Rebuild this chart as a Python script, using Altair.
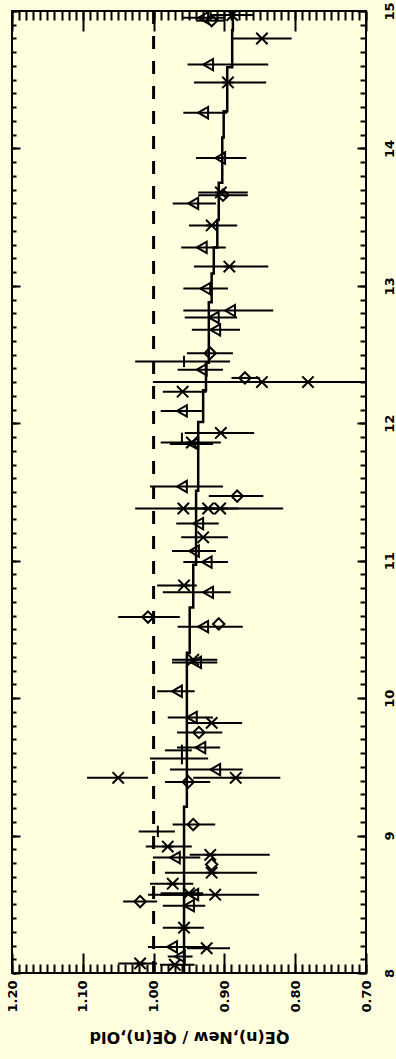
import altair as alt
import pandas as pd

BG = "#FFFFE0"

# ---- step line (running ratio) ----
step_E = [8.00, 9.21, 10.33, 10.66, 10.97, 11.51, 12.01, 12.24, 12.44, 12.88,
          13.09, 13.28, 13.48, 13.75, 14.08, 14.27, 14.59, 14.86, 15.00]
step_QE = [0.957, 0.953, 0.949, 0.944, 0.940, 0.937, 0.930, 0.926, 0.922,
           0.918, 0.915, 0.910, 0.908, 0.903, 0.901, 0.896, 0.889, 0.888]

# ---- individual measurements ----
pt_shape = ["x", "tri", "ast", "tri", "tri", "dia", "ast", "tri", "ast", "tri",
            "ast", "tri", "tri", "tri", "tri", "dia", "tick", "tri", "dia", "ast",
            "x", "x", "tri", "ast", "ast", "tri", "tick", "tri", "dia", "ast",
            "ast", "x", "tri", "x", "tri", "tri", "ast", "tri", "dia", "tri",
            "dia", "ast", "tri", "tri", "tri", "ast", "dia", "tri", "tick", "tick",
            "tri", "x", "ast", "dia", "dia", "tick", "ast", "tri", "ast", "dia",
            "ast", "ast", "tri", "ast", "x", "dia", "tri", "ast", "tri", "x",
            "tri", "ast", "ast", "dia", "tri", "ast"]
pt_energy = [14.80, 14.61, 14.48, 14.26, 13.93, 13.66, 13.68, 13.60, 13.44, 13.28,
             13.14, 12.98, 12.82, 12.77, 12.68, 12.51, 12.45, 12.39, 12.33, 12.30,
             12.30, 12.23, 12.09, 11.93, 11.86, 11.85, 11.89, 11.54, 11.47, 11.38,
             11.38, 11.38, 11.27, 11.17, 11.07, 10.99, 10.82, 10.77, 10.59, 10.52,
             10.54, 10.28, 10.26, 10.05, 9.86, 9.82, 9.75, 9.64, 9.62, 9.56,
             9.48, 9.42, 9.42, 9.39, 9.08, 9.03, 8.92, 8.84, 8.86, 8.79,
             8.73, 8.65, 8.57, 8.58, 8.57, 8.52, 8.49, 8.33, 8.19, 8.18,
             8.12, 8.07, 8.06, 14.93, 14.95, 14.97]
pt_ratio = [0.847, 0.923, 0.895, 0.930, 0.906, 0.902, 0.905, 0.944, 0.918, 0.932,
            0.893, 0.927, 0.892, 0.915, 0.913, 0.920, 0.957, 0.932, 0.871, 0.847,
            0.782, 0.959, 0.960, 0.905, 0.946, 0.944, 0.960, 0.960, 0.882, 0.958,
            0.923, 0.906, 0.937, 0.930, 0.943, 0.925, 0.957, 0.923, 1.008, 0.930,
            0.908, 0.944, 0.940, 0.967, 0.946, 0.918, 0.936, 0.934, 0.960, 0.960,
            0.913, 1.050, 0.884, 0.951, 0.944, 0.994, 0.980, 0.970, 0.920, 0.918,
            0.918, 0.973, 0.944, 0.950, 0.913, 1.019, 0.950, 0.957, 0.974, 0.925,
            0.963, 1.019, 0.970, 0.918, 0.930, 0.889]
pt_err_hi = [0.888, 0.952, 0.943, 0.958, 0.940, 0.937, 0.937, 0.973, 0.950, 0.961,
             0.943, 0.958, 0.958, 0.956, 0.946, 0.953, 1.026, 0.966, 0.890, 0.923,
             1.001, 0.987, 0.990, 0.956, 0.990, 0.977, 0.960, 1.005, 0.922, 1.026,
             0.950, 0.930, 0.968, 0.961, 0.974, 0.958, 0.995, 0.987, 1.050, 0.966,
             0.908, 0.974, 0.974, 0.995, 0.980, 0.953, 0.967, 0.967, 0.984, 1.005,
             0.977, 1.094, 0.944, 0.984, 0.973, 1.021, 1.011, 1.001, 0.949, 0.918,
             0.984, 1.005, 1.008, 0.990, 0.991, 1.043, 0.987, 0.987, 1.008, 0.953,
             0.980, 1.050, 0.991, 0.940, 0.960, 0.920]
pt_err_lo = [0.805, 0.838, 0.841, 0.896, 0.869, 0.867, 0.867, 0.912, 0.882, 0.898,
             0.838, 0.895, 0.831, 0.882, 0.878, 0.888, 0.892, 0.902, 0.850, 0.805,
             0.700, 0.925, 0.930, 0.858, 0.905, 0.916, 0.960, 0.902, 0.845, 0.817,
             0.895, 0.880, 0.908, 0.895, 0.912, 0.895, 0.939, 0.891, 0.963, 0.874,
             0.908, 0.910, 0.910, 0.942, 0.916, 0.875, 0.903, 0.906, 0.946, 0.923,
             0.874, 1.008, 0.821, 0.920, 0.913, 0.970, 0.946, 0.934, 0.836, 0.918,
             0.854, 0.944, 0.930, 0.930, 0.851, 0.995, 0.927, 0.929, 0.925, 0.892,
             0.945, 0.995, 0.942, 0.900, 0.900, 0.860]

ref_value = [1.00]

x_major = [0.70, 0.80, 0.90, 1.00, 1.10, 1.20]
x_minor = [round(0.70 + 0.01 * i, 2) for i in range(51)]
y_major = [8, 9, 10, 11, 12, 13, 14, 15]
y_minor = [round(8 + 0.1 * i, 1) for i in range(71)]

# ---- tables ----
step_rows = []
for i, q in enumerate(step_QE):
    step_rows.append({"E": step_E[i], "QE": q, "o": 2 * i})
    step_rows.append({"E": step_E[i + 1], "QE": q, "o": 2 * i + 1})
step_df = pd.DataFrame(step_rows)

pts_df = pd.DataFrame({"shape": pt_shape, "E": pt_energy, "QE": pt_ratio,
                       "hi": pt_err_hi, "lo": pt_err_lo})
ref_df = pd.DataFrame({"v": ref_value})

xs = alt.Scale(domain=[0.70, 1.20], reverse=True, nice=False, zero=False)
ys = alt.Scale(domain=[8, 15], nice=False, zero=False)

FONT = "DejaVu Sans"


def ax_layer(xaxis, yaxis):
    return alt.Chart(step_df).mark_point(opacity=0).encode(
        x=alt.X("QE:Q", scale=xs, axis=xaxis),
        y=alt.Y("E:Q", scale=ys, axis=yaxis),
    )


common = dict(domain=False, grid=False, tickColor="black", tickWidth=2,
              labelOverlap=False, labelBound=False)

xa_bot_major = alt.Axis(orient="bottom", values=x_major, tickSize=20, offset=-20,
                        format=".2f", labelAngle=270, labelAlign="right",
                        labelBaseline="middle", labelPadding=7,
                        title="QE(n),New / QE(n),Old", titleAngle=180,
                        titleBaseline="bottom", titlePadding=16, **common)
xa_bot_minor = alt.Axis(orient="bottom", values=x_minor, tickSize=9, offset=-9,
                        labels=False, title=None, **common)
xa_top_major = alt.Axis(orient="top", values=x_major, tickSize=20, offset=-20,
                        labels=False, title=None, **common)
xa_top_minor = alt.Axis(orient="top", values=x_minor, tickSize=9, offset=-9,
                        labels=False, title=None, **common)

ya_right_major = alt.Axis(orient="right", values=y_major, tickSize=9, offset=-9,
                          format="d", labelAngle=270, labelAlign="center",
                          labelBaseline="top", labelPadding=17, title=None, **common)
ya_right_minor = alt.Axis(orient="right", values=y_minor, tickSize=6, offset=-6,
                          labels=False, title=None, **common)
ya_left_major = alt.Axis(orient="left", values=y_major, tickSize=8, offset=-8,
                         labels=False, title=None, **common)
ya_left_minor = alt.Axis(orient="left", values=y_minor, tickSize=4, offset=-4,
                         labels=False, title=None, **common)

axes = [
    ax_layer(xa_bot_major, ya_right_major),
    ax_layer(xa_bot_minor, ya_right_minor),
    ax_layer(xa_top_major, ya_left_major),
    ax_layer(xa_top_minor, ya_left_minor),
]

ref = alt.Chart(ref_df).mark_rule(color="black", strokeWidth=3,
                                  strokeDash=[13, 12]).encode(
    x=alt.X("v:Q", scale=xs, axis=None))

step = alt.Chart(step_df).mark_line(color="black", strokeWidth=2.5,
                                    interpolate="linear", clip=True).encode(
    x=alt.X("QE:Q", scale=xs, axis=None),
    y=alt.Y("E:Q", scale=ys, axis=None),
    order="o:Q")

bars = alt.Chart(pts_df).mark_rule(color="black", strokeWidth=2, clip=True).encode(
    x=alt.X("hi:Q", scale=xs, axis=None),
    x2="lo:Q",
    y=alt.Y("E:Q", scale=ys, axis=None))

shape_dom = ["tri", "dia", "x", "ast", "tick"]
shape_rng = ["triangle-left", "diamond",
             "M-1,-1L1,1M-1,1L1,-1",
             "M-1,-1L1,1M-1,1L1,-1M-1,0L1,0",
             "M0,-1L0,1"]

marks = alt.Chart(pts_df).mark_point(filled=False, color="black", strokeWidth=2,
                                     size=130, opacity=1, clip=True).encode(
    x=alt.X("QE:Q", scale=xs, axis=None),
    y=alt.Y("E:Q", scale=ys, axis=None),
    shape=alt.Shape("shape:N", scale=alt.Scale(domain=shape_dom, range=shape_rng),
                    legend=None))

chart = alt.layer(*axes, ref, step, bars, marks).resolve_axis(
    x="independent", y="independent"
).properties(
    width=354, height=962,
    autosize=alt.AutoSizeParams(type="none"),
    padding={"left": 12, "top": 11, "right": 30, "bottom": 86},
    background=BG,
).configure_view(
    stroke="black", strokeWidth=2, fill=BG
).configure_axis(
    labelFont=FONT, labelFontSize=13, labelFontWeight="bold", labelColor="black",
    titleFont=FONT, titleFontSize=16, titleFontWeight="bold", titleColor="black",
)

chart.save("out.html", embed_options={"renderer": "svg", "actions": False})
